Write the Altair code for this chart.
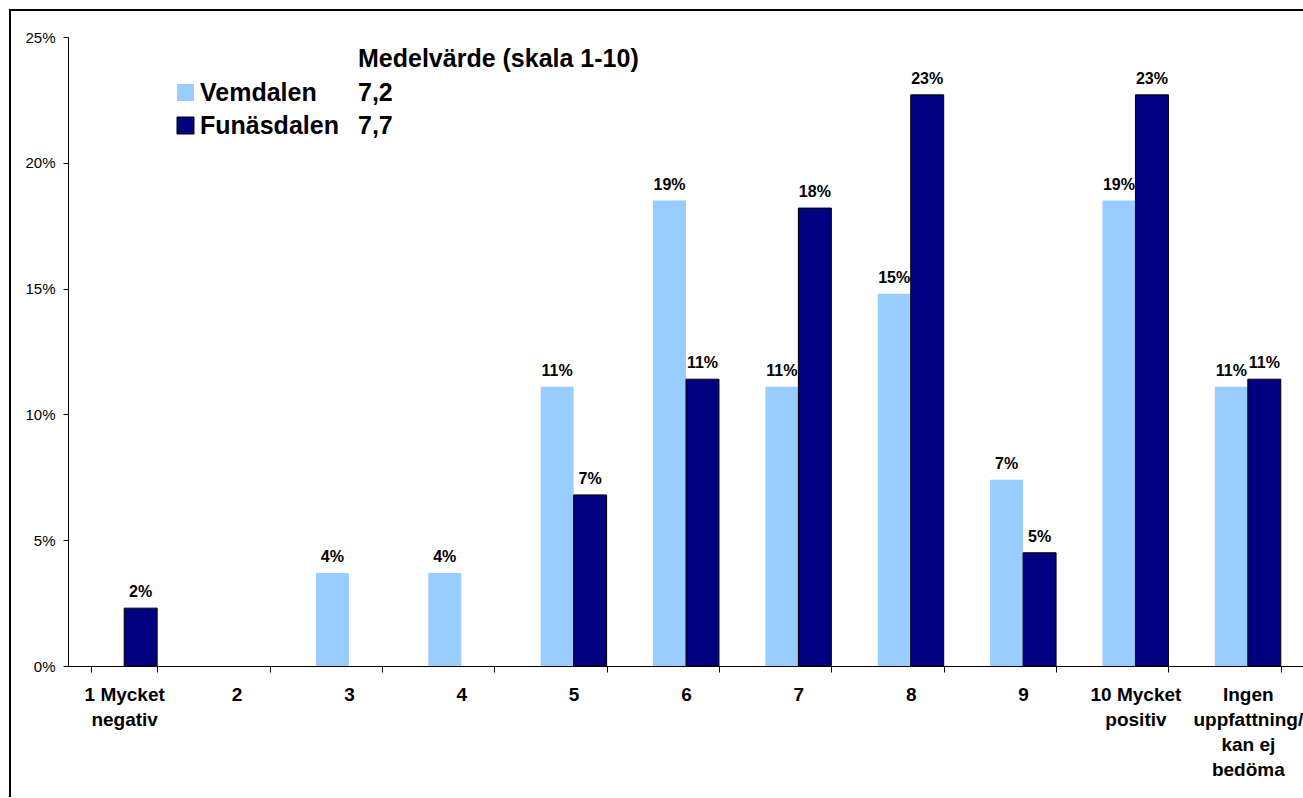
import altair as alt
import pandas as pd

# Answer categories on the 1-10 scale
categories = [
    "1 Mycket\nnegativ", "2", "3", "4", "5", "6", "7", "8", "9",
    "10 Mycket\npositiv", "Ingen\nuppfattning/\nkan ej\nbedöma",
]
series = ["Vemdalen", "Funäsdalen"]
colors = ["#99CCFF", "#000080"]
means = ["7,2", "7,7"]

# Share of answers per category (%)
vemdalen = [0, 0, 3.7, 3.7, 11.1, 18.5, 11.1, 14.8, 7.4, 18.5, 11.1]
funasdalen = [2.3, 0, 0, 0, 6.8, 11.4, 18.2, 22.7, 4.5, 22.7, 11.4]

FONT = "Liberation Sans"

# The view covers the whole framed area; the plot sits inside it
VIEW_W, VIEW_H = 1294, 780
PLOT_L, PLOT_R = 59, 1295
PLOT_T, PLOT_B = 28, 657

rows = []
for cat, v, f in zip(categories, vemdalen, funasdalen):
    rows.append({"cat": cat, "serie": series[0], "pct": v})
    rows.append({"cat": cat, "serie": series[1], "pct": f})
df = pd.DataFrame(rows)

x_enc = alt.X(
    "cat:N",
    sort=categories,
    scale=alt.Scale(
        domain=categories, range=[PLOT_L, PLOT_R],
        paddingInner=0.413, paddingOuter=0.2065,
    ),
    axis=alt.Axis(
        title=None,
        offset=PLOT_B - VIEW_H,
        labelAngle=0,
        labelExpr="split(datum.label, '\\n')",
        labelFont=FONT,
        labelFontSize=19,
        labelFontWeight="bold",
        labelColor="black",
        labelLineHeight=25,
        labelPadding=13,
        labelLimit=400,
        tickBand="extent",
        tickSize=6,
        tickColor="black",
        domainColor="black",
        grid=False,
    ),
)
xoff_enc = alt.XOffset(
    "serie:N", sort=series, scale=alt.Scale(domain=series, paddingInner=0, paddingOuter=0)
)
y_enc = alt.Y(
    "pct:Q",
    scale=alt.Scale(domain=[0, 25], nice=False, range=[PLOT_B, PLOT_T]),
    axis=alt.Axis(
        title=None,
        offset=-PLOT_L,
        values=[0, 5, 10, 15, 20, 25],
        labelExpr="datum.value + '%'",
        labelFont=FONT,
        labelFontSize=15,
        labelColor="black",
        labelPadding=8,
        tickSize=5,
        tickColor="black",
        domainColor="black",
        grid=False,
    ),
)

base = alt.Chart(df).transform_filter("datum.pct > 0")

bars = base.mark_bar(stroke="black").encode(
    x=x_enc,
    xOffset=xoff_enc,
    y=y_enc,
    color=alt.Color("serie:N", scale=alt.Scale(domain=series, range=colors), legend=None),
    strokeWidth=alt.condition("datum.serie == 'Funäsdalen'", alt.value(1), alt.value(0)),
)

labels = base.transform_calculate(
    label="format(datum.pct, '.0f') + '%'"
).mark_text(
    font=FONT, fontSize=16, fontWeight="bold", color="black",
    baseline="alphabetic", align="center", dy=-11,
).encode(
    x=x_enc,
    xOffset=xoff_enc,
    y=y_enc,
    text="label:N",
)

# Outer chart frame: top edge and left edge
one = pd.DataFrame({"k": [0]})
frame_top = alt.Chart(one).mark_rule(color="black", strokeWidth=2).encode(
    x=alt.value(0), x2=alt.value(VIEW_W), y=alt.value(1)
)
frame_left = alt.Chart(one).mark_rule(color="black", strokeWidth=2).encode(
    x=alt.value(1), y=alt.value(0), y2=alt.value(VIEW_H + 8)
)

# Legend with mean values
LEG_X, VAL_X = 168, 349
legend_layers = [
    alt.Chart(one).mark_text(
        font=FONT, fontSize=25, fontWeight="bold", color="black",
        align="left", baseline="alphabetic",
    ).encode(x=alt.value(VAL_X), y=alt.value(58), text=alt.value("Medelvärde (skala 1-10)"))
]
for i, (name, col, mean) in enumerate(zip(series, colors, means)):
    top = 75 + i * 33
    legend_layers.append(
        alt.Chart(one).mark_rect(
            color=col, stroke="black", strokeWidth=1 if i == 1 else 0
        ).encode(
            x=alt.value(LEG_X), x2=alt.value(LEG_X + 17),
            y=alt.value(top), y2=alt.value(top + 17),
        )
    )
    legend_layers.append(
        alt.Chart(one).mark_text(
            font=FONT, fontSize=25, fontWeight="bold", color="black",
            align="left", baseline="alphabetic",
        ).encode(x=alt.value(LEG_X + 23), y=alt.value(top + 17), text=alt.value(name))
    )
    legend_layers.append(
        alt.Chart(one).mark_text(
            font=FONT, fontSize=25, fontWeight="bold", color="black",
            align="left", baseline="alphabetic",
        ).encode(x=alt.value(VAL_X), y=alt.value(top + 17), text=alt.value(mean))
    )

chart = alt.layer(frame_top, frame_left, bars, labels, *legend_layers).properties(
    width=VIEW_W,
    height=VIEW_H,
    autosize=alt.AutoSizeParams(type="none"),
    padding={"left": 9, "top": 9, "right": 0, "bottom": 9},
    background="white",
).configure(
    font=FONT, view=alt.ViewConfig(strokeWidth=0)
)

chart.save("out.html", embed_options={"renderer": "svg", "actions": False})
